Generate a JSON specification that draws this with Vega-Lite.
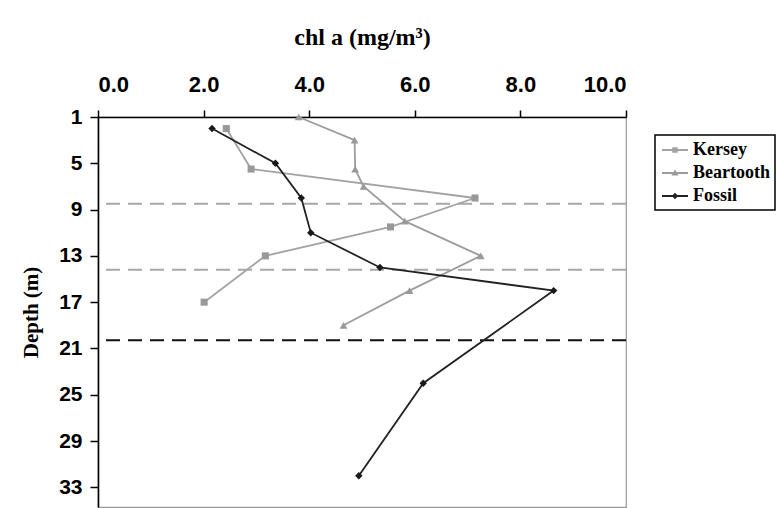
{
  "$schema": "https://vega.github.io/schema/vega-lite/v6.json",
  "width": 528,
  "height": 390,
  "autosize": {"type": "none"},
  "padding": {"left": 98, "top": 117, "right": 152, "bottom": 1},
  "background": "white",
  "config": {
    "view": {"stroke": "#999999", "strokeWidth": 1.2},
    "axis": {
      "grid": false,
      "domainColor": "black",
      "domainWidth": 1.6,
      "tickColor": "black",
      "tickWidth": 1.5,
      "labelFont": "Liberation Sans",
      "labelFontWeight": "bold",
      "labelFontSize": 22,
      "labelColor": "black",
      "titleFont": "Liberation Serif",
      "titleFontWeight": "bold",
      "titleColor": "black"
    },
    "legend": {
      "title": null, "orient": "none", "legendX": 557, "legendY": 18,
      "direction": "vertical", "strokeColor": "black", "strokeWidth": 1.5, "padding": 5,
      "rowPadding": 4, "symbolSize": 400, "symbolStrokeWidth": 0, "symbolOpacity": 1,
      "labelOffset": 13, "labelFont": "Liberation Serif", "labelFontWeight": "bold",
      "labelFontSize": 18, "labelColor": "black"
    }
  },
  "datasets": {
    "profiles": [
      {"series": "Kersey", "depth": 2, "chl": 2.43},
      {"series": "Kersey", "depth": 5.5, "chl": 2.9},
      {"series": "Kersey", "depth": 8, "chl": 7.14},
      {"series": "Kersey", "depth": 10.5, "chl": 5.54},
      {"series": "Kersey", "depth": 13, "chl": 3.17},
      {"series": "Kersey", "depth": 17, "chl": 2.01},
      {"series": "Beartooth", "depth": 1, "chl": 3.8},
      {"series": "Beartooth", "depth": 3, "chl": 4.86},
      {"series": "Beartooth", "depth": 5.5, "chl": 4.87},
      {"series": "Beartooth", "depth": 7, "chl": 5.03},
      {"series": "Beartooth", "depth": 10, "chl": 5.81},
      {"series": "Beartooth", "depth": 13, "chl": 7.25},
      {"series": "Beartooth", "depth": 16, "chl": 5.9},
      {"series": "Beartooth", "depth": 19, "chl": 4.65},
      {"series": "Fossil", "depth": 2, "chl": 2.16},
      {"series": "Fossil", "depth": 5, "chl": 3.36},
      {"series": "Fossil", "depth": 8, "chl": 3.85},
      {"series": "Fossil", "depth": 11, "chl": 4.03},
      {"series": "Fossil", "depth": 14, "chl": 5.34},
      {"series": "Fossil", "depth": 16, "chl": 8.63},
      {"series": "Fossil", "depth": 24, "chl": 6.16},
      {"series": "Fossil", "depth": 32, "chl": 4.94}
    ],
    "grayRules": [{"depth": 8.5}, {"depth": 14.2}],
    "blackRules": [{"depth": 20.3}]
  },
  "layer": [
    {
      "data": {"name": "grayRules"},
      "mark": {"type": "rule", "color": "#a8a8a8", "strokeWidth": 2, "strokeDash": [14, 8]},
      "encoding": {"y": {"field": "depth", "type": "quantitative"}}
    },
    {
      "data": {"name": "blackRules"},
      "mark": {"type": "rule", "color": "#111111", "strokeWidth": 2, "strokeDash": [14, 8]},
      "encoding": {"y": {"field": "depth", "type": "quantitative"}}
    },
    {
      "data": {"name": "profiles"},
      "mark": {"type": "line", "strokeWidth": 1.8},
      "encoding": {
        "x": {
          "field": "chl", "type": "quantitative",
          "scale": {"domain": [0, 10], "nice": false, "zero": false},
          "axis": {
            "orient": "top", "values": [0, 2, 4, 6, 8, 10], "format": ".1f",
            "tickSize": 7, "labelPadding": 14,
            "title": "chl a (mg/m³)", "titleFontSize": 24, "titlePadding": 24
          }
        },
        "y": {
          "field": "depth", "type": "quantitative",
          "scale": {"domain": [1, 34.7], "reverse": true, "nice": false, "zero": false},
          "axis": {
            "values": [1, 5, 9, 13, 17, 21, 25, 29, 33],
            "tickSize": 8, "labelPadding": 8, "labelFontSize": 21,
            "title": "Depth (m)", "titleFontSize": 21, "titlePadding": 17
          }
        },
        "color": {
          "field": "series", "type": "nominal",
          "scale": {"domain": ["Kersey", "Beartooth", "Fossil"], "range": ["#a3a3a3", "#9c9c9c", "#222222"]}
        },
        "detail": {"field": "series"},
        "order": {"field": "depth", "type": "quantitative"}
      }
    },
    {
      "data": {"name": "profiles"},
      "transform": [{"filter": "datum.series === 'Kersey'"}],
      "mark": {"type": "point", "shape": "square", "filled": true, "opacity": 1, "size": 50, "color": "#999999"},
      "encoding": {
        "x": {"field": "chl", "type": "quantitative"},
        "y": {"field": "depth", "type": "quantitative"}
      }
    },
    {
      "data": {"name": "profiles"},
      "transform": [{"filter": "datum.series === 'Beartooth'"}],
      "mark": {"type": "point", "shape": "triangle-up", "filled": true, "opacity": 1, "size": 60, "color": "#999999"},
      "encoding": {
        "x": {"field": "chl", "type": "quantitative"},
        "y": {"field": "depth", "type": "quantitative"}
      }
    },
    {
      "data": {"name": "profiles"},
      "transform": [{"filter": "datum.series === 'Fossil'"}],
      "mark": {"type": "point", "shape": "diamond", "filled": true, "opacity": 1, "size": 55, "color": "#1a1a1a"},
      "encoding": {
        "x": {"field": "chl", "type": "quantitative"},
        "y": {"field": "depth", "type": "quantitative"}
      }
    },
    {
      "data": {"name": "profiles"},
      "mark": {"type": "point", "filled": true, "opacity": 0},
      "encoding": {
        "x": {"field": "chl", "type": "quantitative"},
        "y": {"field": "depth", "type": "quantitative"},
        "color": {
          "field": "series", "type": "nominal",
          "scale": {"domain": ["Kersey", "Beartooth", "Fossil"], "range": ["#a3a3a3", "#9c9c9c", "#222222"]}
        },
        "shape": {
          "field": "series", "type": "nominal",
          "scale": {
            "domain": ["Kersey", "Beartooth", "Fossil"],
            "range": [
              "M-0.8,-0.09H1.8V0.09H-0.8Z M0.22,-0.28H0.78V0.28H0.22Z",
              "M-0.8,-0.09H1.8V0.09H-0.8Z M0.5,-0.36L0.86,0.26H0.14Z",
              "M-0.8,-0.09H1.8V0.09H-0.8Z M0.5,-0.32L0.82,0L0.5,0.32L0.18,0Z"
            ]
          }
        }
      }
    }
  ]
}
